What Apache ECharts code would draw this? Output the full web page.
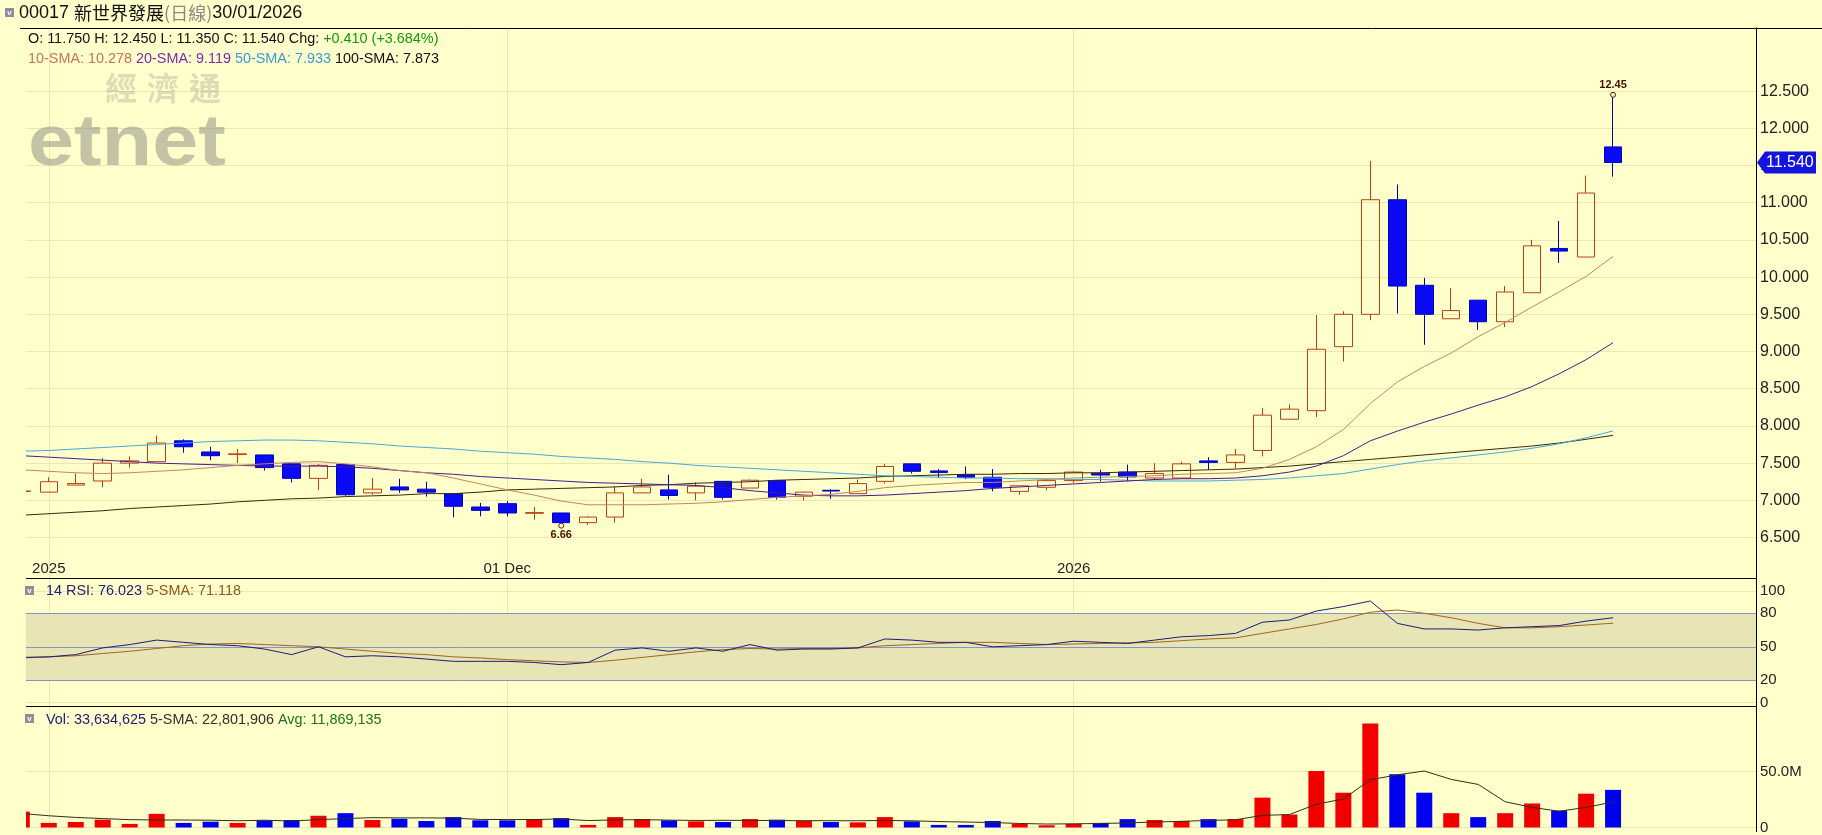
<!DOCTYPE html>
<html><head><meta charset="utf-8">
<script src="https://cdn.jsdelivr.net/npm/echarts@6/dist/echarts.min.js"></script>
<style>html,body{margin:0;padding:0;background:#ffffcc;}#c{width:1822px;height:835px;}</style>
</head><body><div id="c"></div>
<script>
// ---------------- DATA ----------------
const stockCode = '00017';
const stockName = '新世界發展';
const period = '(日線)';
const dates = ['2025-11-05','2025-11-06','2025-11-07','2025-11-10','2025-11-11','2025-11-12','2025-11-13','2025-11-14','2025-11-17','2025-11-18','2025-11-19','2025-11-20','2025-11-21','2025-11-24','2025-11-25','2025-11-26','2025-11-27','2025-11-28',
'2025-12-01','2025-12-02','2025-12-03','2025-12-04','2025-12-05','2025-12-08','2025-12-09','2025-12-10','2025-12-11','2025-12-12','2025-12-15','2025-12-16','2025-12-17','2025-12-18','2025-12-19','2025-12-22','2025-12-23','2025-12-24','2025-12-29','2025-12-30','2025-12-31',
'2026-01-02','2026-01-05','2026-01-06','2026-01-07','2026-01-08','2026-01-09','2026-01-12','2026-01-13','2026-01-14','2026-01-15','2026-01-16','2026-01-19','2026-01-20','2026-01-21','2026-01-22','2026-01-23','2026-01-26','2026-01-27','2026-01-28','2026-01-29','2026-01-30'];
const open = [7.12,7.11,7.205,7.26,7.50,7.52,7.80,7.65,7.615,7.61,
  7.49,7.295,7.48,7.10,7.18,7.15,7.09,6.91,6.955,6.826,
  6.83,6.70,6.775,7.10,7.14,7.10,7.255,7.165,7.265,7.055,
  7.135,7.09,7.255,7.49,7.395,7.345,7.31,7.12,7.175,7.265,
  7.365,7.38,7.30,7.30,7.53,7.51,7.67,8.09,8.205,9.065,
  9.50,11.04,9.89,9.44,9.69,9.40,9.79,10.385,10.27,11.75];
const close = [7.125,7.25,7.225,7.50,7.53,7.77,7.72,7.60,7.625,7.44,
  7.295,7.47,7.075,7.15,7.14,7.11,6.92,6.865,6.83,6.835,
  6.70,6.775,7.10,7.18,7.065,7.19,7.04,7.27,7.04,7.11,
  7.125,7.225,7.455,7.39,7.375,7.31,7.175,7.195,7.265,7.38,
  7.34,7.315,7.36,7.49,7.51,7.61,8.145,8.225,9.03,9.50,
  11.04,9.88,9.50,9.55,9.40,9.80,10.42,10.35,11.13,11.54];
const high = [7.15,7.31,7.36,7.57,7.59,7.87,7.82,7.72,7.69,7.61,
  7.49,7.49,7.48,7.30,7.29,7.25,7.09,6.965,6.99,6.91,
  6.83,6.785,7.19,7.29,7.345,7.24,7.255,7.28,7.265,7.115,
  7.15,7.28,7.49,7.49,7.42,7.455,7.42,7.195,7.265,7.39,
  7.41,7.48,7.50,7.52,7.58,7.69,8.24,8.29,9.49,9.54,
  11.56,11.245,9.99,9.85,9.69,9.88,10.50,10.755,11.365,12.45];
const low = [7.10,7.11,7.205,7.175,7.44,7.52,7.64,7.54,7.50,7.40,
  7.24,7.14,7.06,7.075,7.10,7.05,6.77,6.785,6.785,6.74,
  6.66,6.67,6.70,7.10,7.01,7.00,7.01,7.165,7.01,7.00,
  7.02,7.09,7.225,7.36,7.30,7.285,7.12,7.075,7.135,7.235,
  7.255,7.255,7.27,7.30,7.41,7.43,7.59,8.09,8.12,8.865,
  9.42,9.51,9.09,9.44,9.29,9.33,9.79,10.19,10.27,11.35];
const sma10 = [7.41,7.39,7.37,7.36,7.37,7.39,7.41,7.44,7.47,7.49,
  7.51,7.52,7.49,7.45,7.40,7.37,7.30,7.22,7.14,7.07,
  6.99,6.94,6.94,6.94,6.95,6.96,6.98,7.01,7.04,7.06,
  7.08,7.12,7.17,7.20,7.22,7.24,7.24,7.26,7.28,7.30,
  7.31,7.32,7.33,7.35,7.36,7.37,7.43,7.55,7.72,7.95,
  8.30,8.59,8.80,8.98,9.20,9.39,9.60,9.80,10.01,10.278];
const sma20 = [7.60,7.58,7.56,7.54,7.52,7.50,7.49,7.48,7.47,7.46,
  7.46,7.46,7.45,7.43,7.40,7.37,7.35,7.32,7.30,7.28,
  7.26,7.24,7.23,7.22,7.21,7.20,7.17,7.13,7.10,7.07,
  7.06,7.06,7.07,7.09,7.11,7.13,7.16,7.18,7.20,7.22,
  7.24,7.26,7.28,7.29,7.29,7.30,7.33,7.38,7.46,7.60,
  7.80,7.93,8.05,8.16,8.28,8.39,8.53,8.70,8.89,9.119];
const sma50 = [7.66,7.67,7.69,7.71,7.73,7.75,7.77,7.79,7.80,7.81,
  7.81,7.80,7.78,7.76,7.73,7.71,7.69,7.66,7.64,7.62,
  7.59,7.57,7.55,7.52,7.50,7.47,7.45,7.43,7.41,7.39,
  7.37,7.35,7.33,7.32,7.31,7.30,7.30,7.29,7.29,7.28,
  7.28,7.27,7.26,7.26,7.26,7.27,7.28,7.30,7.33,7.36,
  7.42,7.48,7.53,7.57,7.61,7.65,7.70,7.76,7.84,7.933];
const sma100 = [6.80,6.82,6.84,6.86,6.89,6.91,6.93,6.95,6.98,7.00,
  7.02,7.03,7.05,7.06,7.07,7.09,7.09,7.11,7.14,7.15,
  7.16,7.17,7.18,7.20,7.21,7.23,7.24,7.25,7.27,7.28,
  7.29,7.30,7.32,7.33,7.34,7.35,7.35,7.36,7.36,7.37,
  7.37,7.38,7.39,7.40,7.41,7.42,7.44,7.46,7.49,7.52,
  7.55,7.58,7.61,7.64,7.67,7.70,7.73,7.77,7.82,7.873];
const rsi14 = [40.5,41,43,49,52,56,54,52,51,48,
  43,50,41,42,41,39,37,37,37,36,
  34,36,47,49,46,49,46,52,47,48,
  48,49,57,56,54,54,50,51,52,55,
  54,53,56,59,60,62,72,74,82,86,
  91,71,66,66,65,67,68,69,73,76.023];
const rsiSma5 = [40,41,42,44,46,48.5,51,52.5,53,52,
  51,50,48,46,44,43,41,40,38.5,37.5,
  36.5,36,38,40.5,43,45.5,47.5,48.5,48,48.5,
  48.5,49,51,52,53,54,54,53,52,52.5,
  53,53.5,54,55.5,57,58,62,66,70,75,
  81,83,80,76,71,67,67,68,69.5,71.118];
// volume in millions of shares
const volumeM = [14.2,4.1,4.9,7.0,3.2,12.2,4.1,5.2,4.1,6.4,
  6.7,10.5,12.8,6.7,7.8,5.8,9.3,6.4,6.4,7.5,
  8.4,2.3,9.3,7.5,6.4,5.5,4.9,7.5,7.0,5.8,
  4.9,4.6,9.3,5.5,2.3,2.3,5.8,3.2,2.0,3.2,
  4.1,7.5,6.7,5.8,7.5,7.5,26.7,11.6,50.5,31.1,
  92.9,47.6,31.1,12.8,9.3,12.8,21.5,15.1,30.2,33.634625];
const volSma5M = [12.5,10.5,9,8,7,6.7,6.7,6.5,6.0,6.5,
  5.8,7.0,8.0,8.8,8.6,8.6,8.4,7.2,7.1,7.1,
  7.6,6.2,6.8,7.0,6.6,6.3,6.4,6.4,6.2,6.1,
  6.1,6.0,6.3,6.0,5.3,4.9,4.4,3.6,3.1,3.3,
  3.6,4.1,4.9,5.5,6.3,6.9,10.8,11.6,20.8,25.5,
  42.7,47.0,50.5,43.0,38.5,23.0,18.0,14.5,18.0,22.801906];
const volAvgM = 11.869135;
const tickDates = ['2025-11-06','2025-12-01','2026-01-02'];
const tickTexts = ['2025','01 Dec','2026'];
const priceTicks = [6.5,7,7.5,8,8.5,9,9.5,10,10.5,11,11.5,12,12.5];
const rsiTicks = [0,20,50,80,100];
const rsiLevels = [20,50,80];
const volTicks = [0,50];

// ---------------- BUILD ----------------
const FONT = '"Liberation Sans", Arial, Helvetica, sans-serif';
const CJK = '"Noto Sans CJK TC", "Noto Sans CJK SC", sans-serif';
const N = dates.length, L = N - 1;
const BG = '#ffffcc';
const UP = '#b8420f', DOWN = '#0a0af5';
const tickPos = tickDates.map(d => dates.indexOf(d));
const labelAt = {}; tickPos.forEach((p, i) => labelAt[p] = tickTexts[i]);
const isUp = i => close[i] >= open[i];
const xy = arr => arr.map((v, i) => [i, v]);
const candleData = dates.map((d, i) => [i, open[i], close[i], low[i], high[i]]);
const volData = volumeM.map((v, i) => ({ value: [i, v], itemStyle: { color: isUp(i) ? '#f20000' : '#0000f0' } }));
const f3 = v => v.toFixed(3);
const fmtInt = v => Math.round(v * 1e6).toLocaleString('en-US');

const X_MIN = 0.155, X_MAX = 64.3;
const grids = [
  { left: 26, right: 66, top: 28, height: 550 },
  { left: 26, right: 66, top: 578, height: 128 },
  { left: 26, right: 66, top: 706, height: 129 }
];
const gridLineColor = '#ebe7b4';
function xAxisFor(gi, showLabel) {
  return {
    type: 'value', gridIndex: gi, min: X_MIN, max: X_MAX,
    axisLine: { show: gi < 2, onZero: false, lineStyle: { color: '#000', width: 1 } },
    axisTick: { show: false, customValues: tickPos },
    splitLine: { show: true, lineStyle: { color: gridLineColor, width: 1 } },
    axisLabel: showLabel ? {
      show: true, inside: true, customValues: tickPos, margin: 2,
      formatter: v => labelAt[Math.round(v)] || '', color: '#222', fontSize: 15, fontFamily: FONT
    } : { show: false, customValues: tickPos }
  };
}
function yAxisFor(gi, min, max, ticks, fmt, fs) {
  return {
    type: 'value', gridIndex: gi, position: 'right', min, max,
    axisLine: { show: true, lineStyle: { color: '#000', width: 1 } },
    axisTick: { show: false, customValues: ticks },
    splitLine: { show: true, lineStyle: { color: gridLineColor, width: 1 } },
    axisLabel: { show: true, customValues: ticks, formatter: fmt, color: '#222', fontSize: fs, fontFamily: FONT, margin: 4 }
  };
}
function lineS(data, color, xi, yi, z, w) {
  return { type: 'line', data: xy(data), xAxisIndex: xi, yAxisIndex: yi, showSymbol: false, symbol: 'none',
    lineStyle: { color, width: w || 1 }, z: z || 5, silent: true, clip: true };
}

const option = {
  animation: false,
  backgroundColor: BG,
  grid: grids,
  xAxis: [xAxisFor(0, true), xAxisFor(1, false), xAxisFor(2, false)],
  yAxis: [
    yAxisFor(0, 5.956, 13.348, priceTicks, v => v.toFixed(3), 16),
    yAxisFor(1, -3.0, 111.6, rsiTicks, v => String(v), 15),
    yAxisFor(2, -3.75, 108.6, volTicks, v => v === 0 ? '0' : v.toFixed(1) + 'M', 15)
  ],
  series: [
    {
      type: 'candlestick', data: candleData, xAxisIndex: 0, yAxisIndex: 0, barWidth: 18, z: 3, clip: true,
      itemStyle: { color: 'rgba(255,255,204,0)', color0: DOWN, borderColor: UP, borderColor0: '#0000c0', borderWidth: 1 },
      markPoint: {
        symbol: 'circle', symbolSize: 5, silent: true,
        itemStyle: { color: BG, borderColor: '#5a1a00', borderWidth: 1 },
        label: { show: true, fontSize: 11, fontWeight: 'bold', color: '#4a1000', fontFamily: FONT, distance: 1, formatter: p => p.value.toFixed(2) },
        data: [
          { coord: [L, high[L]], value: high[L], label: { position: 'top' } },
          { coord: [low.indexOf(Math.min(...low)), Math.min(...low)], value: Math.min(...low), label: { position: 'bottom' } }
        ]
      }
    },
    lineS(sma100, '#3a2a10', 0, 0, 4),
    lineS(sma50, '#4aa6d8', 0, 0, 4),
    lineS(sma20, '#4a1a90', 0, 0, 4),
    lineS(sma10, '#c0885c', 0, 0, 4),
    Object.assign(lineS(rsiSma5, '#a0641e', 1, 1, 5), {
      markArea: { silent: true, itemStyle: { color: '#e7e4b6' }, data: [[{ yAxis: 20 }, { yAxis: 80 }]] },
      markLine: { silent: true, symbol: 'none', label: { show: false }, lineStyle: { color: '#8494c4', width: 1, type: 'solid' },
        data: rsiLevels.map(v => ({ yAxis: v })) }
    }),
    lineS(rsi14, '#1c1c78', 1, 1, 6),
    {
      type: 'bar', data: volData, xAxisIndex: 2, yAxisIndex: 2, barWidth: 16, z: 3, clip: true, silent: true,
      markLine: { silent: true, symbol: 'none', label: { show: false }, lineStyle: { color: '#2a8a2a', width: 1.5, type: 'solid' },
        data: [[{ coord: [0, volAvgM] }, { coord: [L, volAvgM] }]] }
    },
    lineS(volSma5M, '#303010', 2, 2, 6)
  ]
};

const chart = echarts.init(document.getElementById('c'), null, { renderer: 'canvas' });
chart.setOption(option);

// ---------------- TEXT / DECORATION ----------------
function richText(x, y, parts, size, family) {
  const rich = {}; let s = '';
  parts.forEach((p, i) => {
    rich['p' + i] = { fill: p[1], fontSize: size, fontFamily: p[2] || family || FONT };
    s += '{p' + i + '|' + p[0] + '}';
  });
  return { type: 'text', x, y, silent: true, z: 50,
    style: { text: s, rich, verticalAlign: 'middle', align: 'left', fontSize: size, fontFamily: family || FONT } };
}
function iconBox(x, y) {
  return [
    { type: 'rect', silent: true, z: 50, shape: { x, y, width: 9, height: 9 }, style: { fill: '#8e8e9a' } },
    { type: 'text', silent: true, z: 51, x: x + 4.5, y: y + 4.5, style: { text: 'v', fill: '#fff', fontSize: 8, fontWeight: 'bold', align: 'center', verticalAlign: 'middle', fontFamily: FONT } }
  ];
}
const d = dates[L].split('-');
const chg = close[L] - close[L - 1];
const pct = chg / close[L - 1] * 100;
const sgn = v => (v >= 0 ? '+' : '');
const py = chart.convertToPixel({ xAxisIndex: 0, yAxisIndex: 0 }, [L, close[L]])[1];
const axisX = 1822 - grids[0].right;
const wmChars = ['經', '濟', '通'];

const graphics = [
  // mask the part of the first (cut-off) bar that lies left of the plot
  { type: 'rect', silent: true, z: 40, shape: { x: 0, y: 29.5, width: grids[0].left, height: 806 }, style: { fill: BG } },
  ...iconBox(5, 8),
  richText(19, 13, [[stockCode + ' ', '#111'], [stockName, '#111', CJK], [period, '#888', CJK], [d[2] + '/' + d[1] + '/' + d[0], '#111']], 18),
  { type: 'line', silent: true, z: 50, shape: { x1: 20, y1: 28.5, x2: 1822, y2: 28.5 }, style: { stroke: '#000', lineWidth: 1 } },
  richText(28, 39, [['O: ' + f3(open[L]) + ' H: ' + f3(high[L]) + ' L: ' + f3(low[L]) + ' C: ' + f3(close[L]) + ' Chg: ', '#111'],
    [sgn(chg) + f3(chg) + ' (' + sgn(pct) + f3(pct) + '%)', '#129a12']], 14.4),
  richText(28, 59, [['10-SMA: ' + f3(sma10[L]) + ' ', '#c8735a'], ['20-SMA: ' + f3(sma20[L]) + ' ', '#7a2ab0'],
    ['50-SMA: ' + f3(sma50[L]) + ' ', '#3c9ad8'], ['100-SMA: ' + f3(sma100[L]), '#111']], 14.4),
  ...wmChars.map((c, i) => ({ type: 'text', silent: true, z: 1, x: 105 + i * 42, y: 88,
    style: { text: c, fill: 'rgba(150,150,140,0.33)', fontSize: 32, fontWeight: 'bold', fontFamily: CJK, verticalAlign: 'middle' } })),
  { type: 'text', silent: true, z: 1, x: 28, y: 145, scaleX: 1.15, scaleY: 1,
    style: { text: 'etnet', fill: 'rgba(135,135,128,0.5)', fontSize: 72, fontWeight: 'bold', fontFamily: FONT, verticalAlign: 'middle' } },
  ...iconBox(25, 586),
  richText(46, 591, [['14 RSI: ' + f3(rsi14[L]) + ' ', '#20207a'], ['5-SMA: ' + f3(rsiSma5[L]), '#8a5a1a']], 14.4),
  ...iconBox(25, 714),
  richText(46, 720, [['Vol: ' + fmtInt(volumeM[L]) + ' ', '#20207a'], ['5-SMA: ' + fmtInt(volSma5M[L]) + ' ', '#303030'], ['Avg: ' + fmtInt(volAvgM), '#207020']], 14.4),
  { type: 'polygon', silent: true, z: 60, shape: { points: [[axisX + 1, py], [axisX + 9, py - 11], [axisX + 60, py - 11], [axisX + 60, py + 11], [axisX + 9, py + 11]] }, style: { fill: '#1414e0' } },
  { type: 'text', silent: true, z: 61, x: axisX + 10, y: py, style: { text: f3(close[L]), fill: '#fff', fontSize: 16, fontFamily: FONT, verticalAlign: 'middle', align: 'left' } }
];
chart.setOption({ graphic: graphics });
</script></body></html>
